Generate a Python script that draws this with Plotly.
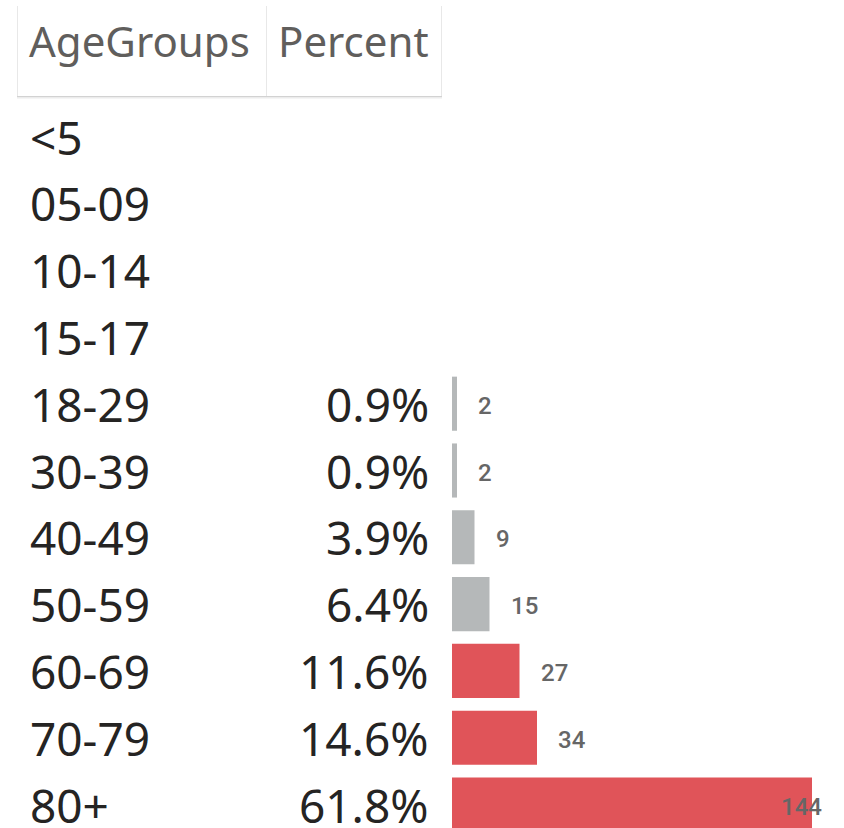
import plotly.graph_objects as go

age_groups = ["<5", "05-09", "10-14", "15-17", "18-29", "30-39", "40-49",
              "50-59", "60-69", "70-79", "80+"]
counts = [None, None, None, None, 2, 2, 9, 15, 27, 34, 144]
percent_labels = ["", "", "", "", "0.9%", "0.9%", "3.9%", "6.4%",
                  "11.6%", "14.6%", "61.8%"]
headers = ["AgeGroups", "Percent"]
highlight_threshold = 20

W, H = 844, 828
GRAY = "#b5b8b9"
RED = "#e05459"
TEXT = "#252423"
HEAD = "#605e5c"
FONT = "Noto Sans"
LABEL = "#666666"

bar_colors = [RED if (c is not None and c >= highlight_threshold) else GRAY
              for c in counts]

fig = go.Figure()
fig.add_trace(go.Bar(
    y=age_groups, x=counts, orientation="h",
    marker=dict(color=bar_colors, line=dict(width=0)),
    hoverinfo="skip", showlegend=False,
))

# y range: row 0 centred at ~136px, pitch 66.8px
pitch = 66.8
c0 = 136.5
y_top = -c0 / pitch
y_bot = (H - c0) / pitch

# x: bars start at pixel 452, 2.5 px per unit
x0_px = 452
scale = 2.5
x_max = (W - x0_px) / scale

ann = []
for i, g in enumerate(age_groups):
    ann.append(dict(x=28 / W, xref="paper", y=g, yref="y", text=g,
                    showarrow=False, xanchor="left", yanchor="middle",
                    font=dict(family=FONT, size=46, color=TEXT)))
    if percent_labels[i]:
        ann.append(dict(x=431 / W, xref="paper", y=g, yref="y",
                        text=percent_labels[i], showarrow=False,
                        xanchor="right", yanchor="middle",
                        font=dict(family=FONT, size=46, color=TEXT)))
label_limit = (824 - x0_px) / scale
lab_font = dict(family="Roboto", size=24, color=LABEL, weight=500)
for g, c in zip(age_groups, counts):
    if c is None:
        continue
    lab_w = 13 * len(str(c)) / scale
    if c + 19 / scale + lab_w > label_limit:
        ann.append(dict(x=label_limit, xref="x", y=g, yref="y", text=str(c),
                        showarrow=False, xanchor="right", yanchor="middle",
                        yshift=-2, font=lab_font))
    else:
        ann.append(dict(x=c, xref="x", y=g, yref="y", text=str(c),
                        showarrow=False, xanchor="left", yanchor="middle",
                        xshift=19, yshift=-2, font=lab_font))

# headers
hy = y_top + 40 / pitch
ann.append(dict(x=27 / W, xref="paper", y=hy, yref="y", text=headers[0],
                showarrow=False, xanchor="left", yanchor="middle",
                font=dict(family=FONT, size=42, color=HEAD)))
ann.append(dict(x=276 / W, xref="paper", y=hy, yref="y", text=headers[1],
                showarrow=False, xanchor="left", yanchor="middle",
                font=dict(family=FONT, size=42, color=HEAD)))

def py(p):
    return 1 - p / H

def px(p):
    return p / W

line = dict(color="#e8e8e8", width=1)
shapes = [
    dict(type="line", xref="paper", yref="paper", x0=px(17.5), x1=px(17.5), y0=py(6), y1=py(96), line=line),
    dict(type="line", xref="paper", yref="paper", x0=px(266.5), x1=px(266.5), y0=py(6), y1=py(96), line=line),
    dict(type="line", xref="paper", yref="paper", x0=px(441.5), x1=px(441.5), y0=py(6), y1=py(96), line=line),
    dict(type="line", xref="paper", yref="paper", x0=px(17), x1=px(442), y0=py(97.5), y1=py(97.5), line=dict(color="#ececec", width=2)),
    dict(type="line", xref="paper", yref="paper", x0=px(17), x1=px(442), y0=py(96.5), y1=py(96.5), line=dict(color="#d2d2d2", width=1)),
]

fig.update_layout(
    width=W, height=H,
    margin=dict(l=0, r=0, t=0, b=0),
    paper_bgcolor="white", plot_bgcolor="white",
    bargap=0.19,
    xaxis=dict(domain=[x0_px / W, 1], range=[0, x_max], visible=False,
               fixedrange=True),
    yaxis=dict(type="category", categoryorder="array", categoryarray=age_groups,
               range=[y_bot, y_top], visible=False, fixedrange=True),
    annotations=ann, shapes=shapes,
)

fig.write_html("out.html", config={"displayModeBar": False},
               post_script="document.body.style.margin='0';document.body.style.overflow='hidden';")
